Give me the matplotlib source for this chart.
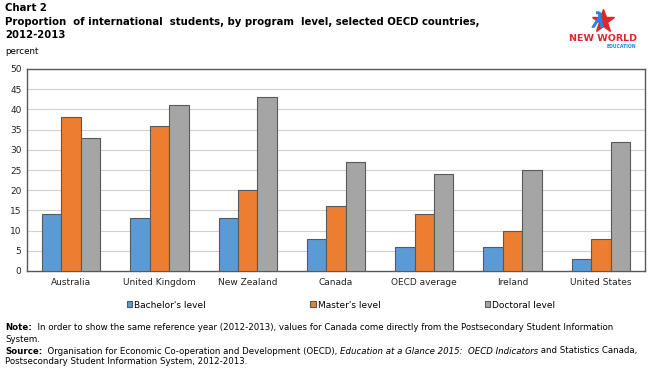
import matplotlib
matplotlib.use("Agg")
import matplotlib.pyplot as plt
import numpy as np

# データ
countries = ["Australia", "United Kingdom", "New Zealand", "Canada",
             "OECD average", "Ireland", "United States"]
bachelor = [14, 13, 13, 8, 6, 6, 3]
master = [38, 36, 20, 16, 14, 10, 8]
doctoral = [33, 41, 43, 27, 24, 25, 32]
series_names = ["Bachelor's level", "Master's level", "Doctoral level"]
colors = ["#5B9BD5", "#ED7D31", "#A5A5A5"]

plt.rcParams['font.family'] = 'DejaVu Sans'

fig = plt.figure(figsize=(6.5, 3.7), dpi=100)
W, H = 650, 370

# プロットエリア
ax = fig.add_axes([27 / W, 1 - 271 / H, 618 / W, 202 / H])

x = np.arange(len(countries))
bw = 0.22
for i, (vals, name, c) in enumerate(zip([bachelor, master, doctoral], series_names, colors)):
    ax.bar(x + (i - 1) * bw, vals, width=bw, color=c, edgecolor="#595959",
           linewidth=0.8, label=name, zorder=3)

ax.set_xlim(-0.5, len(countries) - 0.5)
ax.set_ylim(0, 50)
ax.set_yticks(np.arange(0, 51, 5))
ax.set_xticks(x)
ax.set_xticklabels(countries)
ax.tick_params(axis="both", length=0, labelsize=6.5, colors="#222222")
ax.tick_params(axis="x", pad=5)
ax.tick_params(axis="y", pad=4)
ax.grid(axis="y", color="#D0D0D0", linewidth=0.8, zorder=0)
for s in ax.spines.values():
    s.set_color("#595959")
    s.set_linewidth(1.0)

# 凡例
fig.legend(loc="center", bbox_to_anchor=(341 / W, 1 - 305 / H), ncol=3,
           frameon=False, fontsize=6.5, handlelength=0.6, handleheight=0.6,
           handletextpad=0.2, columnspacing=11.6)

# タイトル
fig.text(5 / W, 1 - 8 / H, "Chart 2", fontsize=7.3, fontweight="bold", va="center")
fig.text(5 / W, 1 - 22 / H,
         "Proportion  of international  students, by program  level, selected OECD countries,",
         fontsize=7.3, fontweight="bold", va="center")
fig.text(5 / W, 1 - 35 / H, "2012-2013", fontsize=7.3, fontweight="bold", va="center")
fig.text(5 / W, 1 - 52 / H, "percent", fontsize=6.3, va="center")

# ロゴ
ax_logo = fig.add_axes([564 / W, 1 - 48 / H, 78 / W, 40 / H])
ax_logo.axis("off")
ax_logo.set_xlim(0, 1)
ax_logo.set_ylim(0, 1)
ax_logo.plot([0.5], [0.68], marker="*", markersize=17, color="#E0262B")
ax_logo.plot([0.42], [0.72], marker=r"$\lambda$", markersize=11, color="#1E88E5")
ax_logo.text(0.5, 0.24, "NEW WORLD", color="#E0262B", fontsize=6.8, fontweight="bold",
             ha="center", va="center")
ax_logo.text(0.74, 0.04, "EDUCATION", color="#1E88E5", fontsize=3.3, fontweight="bold",
             ha="center", va="center")

# 注記（太字・斜体を並べて描く）
fig.canvas.draw()
renderer = fig.canvas.get_renderer()


def draw_line(parts, x0, y0, size=6.25):
    xx = x0
    for txt, style in parts:
        kw = {}
        if style == "b":
            kw["fontweight"] = "bold"
        elif style == "i":
            kw["fontstyle"] = "italic"
        t = fig.text(xx / W, 1 - y0 / H, txt, fontsize=size, va="center", **kw)
        bb = t.get_window_extent(renderer)
        xx = bb.x1


draw_line([("Note:", "b"),
           ("  In order to show the same reference year (2012-2013), values for Canada come directly from the Postsecondary Student Information", "")],
          5, 327)
draw_line([("System.", "")], 5, 339)
draw_line([("Source:", "b"),
           ("  Organisation for Economic Co-operation and Development (OECD), ", ""),
           ("Education at a Glance 2015:  OECD Indicators", "i"),
           (" and Statistics Canada,", "")],
          5, 351)
draw_line([("Postsecondary Student Information System, 2012-2013.", "")], 5, 362)

fig.savefig("out.png", dpi=100)
